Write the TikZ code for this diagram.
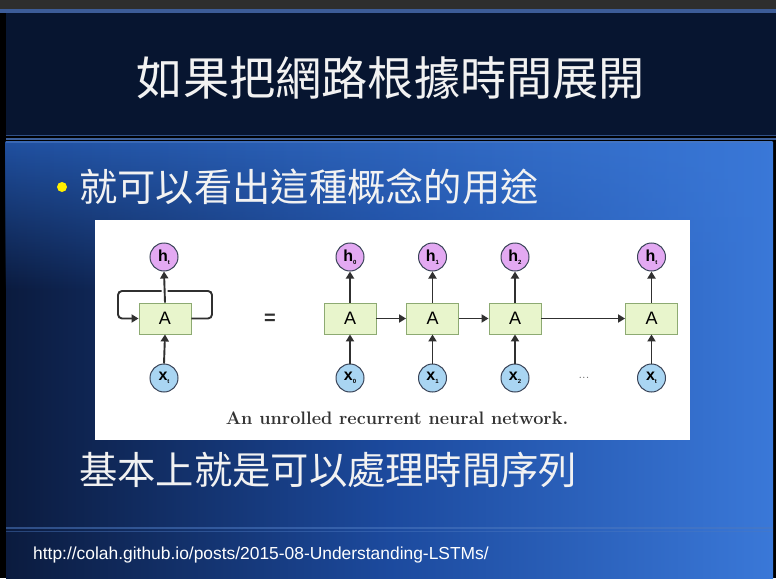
\documentclass[tikz,border=0pt]{standalone}
\usepackage{fontspec}
\setsansfont{Liberation Sans}
\newfontfamily\cjk{Noto Sans CJK TC}
\usetikzlibrary{arrows.meta,fadings}

\definecolor{topbar}{HTML}{2E2E2E}
\definecolor{topline}{HTML}{3C5C98}
\definecolor{titlebg}{HTML}{071530}
\definecolor{bodyleft}{HTML}{0B1B3E}
\definecolor{bodymid}{HTML}{1C4A9E}
\definecolor{bodyright}{HTML}{3A78D8}
\definecolor{glowleft}{HTML}{2050A0}
\definecolor{stripe}{HTML}{4C78C0}
\definecolor{cellfill}{HTML}{E8F5CC}
\definecolor{celledge}{HTML}{8DAA72}
\definecolor{hfill}{HTML}{E3A9F2}
\definecolor{xfill}{HTML}{A9D5F2}
\definecolor{ringedge}{HTML}{3A4458}
\definecolor{wire}{HTML}{303030}
\definecolor{bulletyellow}{HTML}{FFEE00}
\definecolor{slidetext}{HTML}{F2F2F2}

\tikzset{
  cell/.style={rectangle, draw=celledge, line width=0.9pt, fill=cellfill,
    minimum width=52pt, minimum height=31pt, inner sep=0pt,
    font=\sffamily\fontsize{18}{18}\selectfont},
  hring/.style={circle, draw=ringedge, line width=1pt, fill=hfill,
    minimum size=28pt, inner sep=0pt, font=\sffamily\bfseries\fontsize{16}{16}\selectfont},
  xring/.style={circle, draw=ringedge, line width=1pt, fill=xfill,
    minimum size=28pt, inner sep=0pt, font=\sffamily\bfseries\fontsize{16}{16}\selectfont},
  wirearrow/.style={draw=wire, line width=1.9pt,
    -{Triangle[length=7pt,width=8pt]}},
  cjktitle/.style={text=slidetext, font=\cjk\fontsize{46.2}{50}\selectfont, inner sep=0pt},
  cjkbody/.style={text=slidetext, font=\cjk\fontsize{38.3}{42}\selectfont, inner sep=0pt, anchor=west},
}
\newcommand{\sub}[1]{\raisebox{-0.35ex}{\fontsize{6}{6}\selectfont #1}}

\begin{document}
\begin{tikzpicture}[x=1pt,y=-1pt]
\useasboundingbox (0,0) rectangle (776,578);

% frame and slide background
\fill[black] (0,0) rectangle (776,578);
\fill[topbar] (0,0) rectangle (776,9);
\fill[topline] (0,9) rectangle (776,13);
\fill[titlebg] (6,13) rectangle (776,135);
\shade[left color=bodyleft, right color=bodyright, middle color=bodymid]
  (6,142) rectangle (773,578);
\shade[left color=glowleft, right color=bodyright, path fading=south]
  (6,142) rectangle (773,290);
% separator stripes
\fill[stripe!60!titlebg] (6,134.5) rectangle (776,136);
\fill[stripe!80!black] (6,138) rectangle (776,139.5);
\fill[stripe, opacity=0.6] (6,140.5) rectangle (773,142.5);
\fill[stripe, opacity=0.55] (6,527) rectangle (773,528.5);
\fill[stripe, opacity=0.45] (6,530.5) rectangle (773,532);

% texts
\node[cjktitle] (title) at (391,78) {如果把網路根據時間展開};
\fill[bulletyellow] (62,187) circle (5pt);
\node[cjkbody] (point) at (79,187) {就可以看出這種概念的用途};
\node[cjkbody] (summary) at (79,470) {基本上就是可以處理時間序列};
\node[anchor=west, text=white, inner sep=0pt,
      font=\sffamily\fontsize{17.4}{19}\selectfont] (source) at (33,555)
  {http://colah.github.io/posts/2015-08-Understanding-LSTMs/};

% figure panel
\fill[white] (95,220) rectangle (690,440);

% folded network
\node[cell] (A) at (165,318.5) {A};
\node[hring] (ht) at (164,257) {h\sub{t}};
\node[xring] (xt) at (164,378) {x\sub{t}};
\coordinate (loopR) at (212,318.5);
\coordinate (loopTR) at (212,291);
\coordinate (loopTL) at (118,291);
\coordinate (loopL) at (118,318.5);
\draw[wirearrow, rounded corners=4pt] (A.east) -- (loopR) -- (loopTR) -- (loopTL) -- (loopL) -- (A.west);
\draw[white, line width=6pt, shorten >=3pt, shorten <=3pt] (A.north) -- (ht.south);
\draw[wirearrow] (A.north) -- (ht.south);
\draw[wirearrow] (xt.north) -- (A.south);

\node[font=\sffamily\bfseries\fontsize{20}{20}\selectfont, text=wire] (eq) at (270,319) {=};

% unrolled network
\foreach \n/\px/\s in {0/350/0, 1/432.5/1, 2/515/2, 3/651.5/t}{
  \node[cell] (A\n) at (\px,318.5) {A};
  \node[hring] (h\n) at (\px,257) {h\sub{\s}};
  \node[xring] (x\n) at (\px,378) {x\sub{\s}};
  \draw[wirearrow] (A\n.north) -- (h\n.south);
  \draw[wirearrow] (x\n.north) -- (A\n.south);
}
\draw[wirearrow] (A0.east) -- (A1.west);
\draw[wirearrow] (A1.east) -- (A2.west);
\draw[wirearrow] (A2.east) -- (A3.west);
\node[text=black!60, font=\fontsize{13}{13}\selectfont] (dots) at (584,378) {...};

\node[font=\bfseries\fontsize{18.1}{22}\selectfont, text=black!80] (caption) at (397,418)
  {An unrolled recurrent neural network.};
\end{tikzpicture}
\end{document}
